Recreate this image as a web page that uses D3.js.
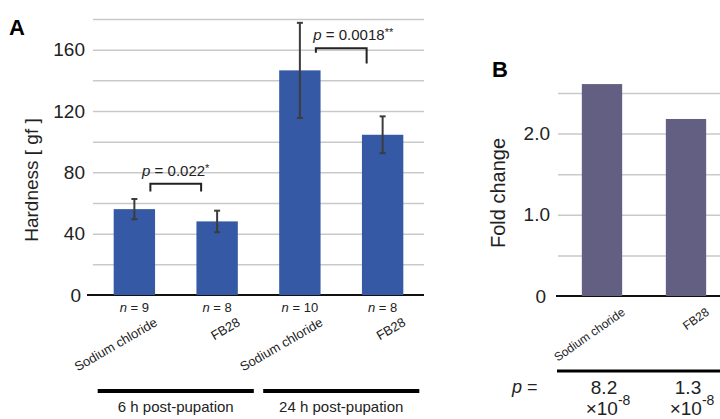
<!DOCTYPE html>
<html>
<head>
<meta charset="utf-8">
<script src="https://cdn.jsdelivr.net/npm/d3@7"></script>
<style>
  html, body { margin: 0; padding: 0; background: #fff; }
  svg { display: block; font-family: 'Liberation Sans', Arial, sans-serif; }
  .tick text { fill: #222; }
</style>
</head>
<body>
<svg id="fig" width="720" height="419"></svg>
<script>
'use strict'

// Panel A : hardness of the pupae
const hardnessIds = ['nacl6', 'fb6', 'nacl24', 'fb24']
const hardnessLabels = ['Sodium chloride', 'FB28', 'Sodium chloride', 'FB28']
const hardnessMeans = [56, 48, 146.5, 104.5]
const hardnessErrors = [6.6, 7, 31, 12]
const hardnessN = [9, 8, 10, 8]
const hardnessGroups = ['6 h post-pupation', '24 h post-pupation']
const hardnessTicks = [0, 40, 80, 120, 160]
const hardnessGrid = [20, 40, 60, 80, 100, 120, 140, 160, 180]

// comparisons : pairs of bars, p value, stars, bracket level and leg ends
const comparePairs = [[0, 1], [2, 3]]
const compareP = ['0.022', '0.0018']
const compareStars = ['*', '**']
const compareLevel = [72.5, 161]
const compareLeftEnd = [67.5, 158]
const compareRightEnd = [67.5, 151]

// Panel B : fold change
const foldCategories = ['Sodium choride', 'FB28']
const foldValues = [2.61, 2.18]
const foldTicks = [0, 1, 2]
const foldGrid = [0.5, 1, 1.5, 2, 2.5]
const foldPMantissa = ['8.2', '1.3']
const foldPExponent = '-8'

const FONT_COLOR = '#222'

/**
 * Draws the horizontal grid lines of a panel.
 */
function drawGrid (svg, y, values, x0, x1) {
  svg.append('g')
    .attr('transform', 'translate(' + x0 + ',0)')
    .call(d3.axisLeft(y).tickValues(values).tickSize(-(x1 - x0)).tickFormat(''))
    .call(g => g.select('.domain').remove())
    .call(g => g.selectAll('line').attr('stroke', '#c9c9c9').attr('stroke-width', 1.5))
}

/**
 * Draws the y tick labels (no tick marks).
 */
function drawYLabels (svg, y, values, x0, format) {
  svg.append('g')
    .attr('transform', 'translate(' + x0 + ',0)')
    .call(d3.axisLeft(y).tickValues(values).tickSize(0).tickPadding(8).tickFormat(format))
    .call(g => g.select('.domain').remove())
    .call(g => g.selectAll('text').attr('font-size', 19).attr('font-family', 'Liberation Sans, Arial, sans-serif'))
    .call(g => g.selectAll('.tick').filter(d => d === 0).select('text').attr('dx', -4))
}

function drawPanelA (svg) {
  const x = d3.scaleBand()
    .domain(hardnessIds)
    .range([93, 424])
    .paddingInner(0.5)
    .paddingOuter(0.25)
  const y = d3.scaleLinear().domain([0, 180]).range([295, 19])
  const bw = x.bandwidth()

  drawGrid(svg, y, hardnessGrid, 93, 424)

  // baseline
  svg.append('line')
    .attr('x1', 87).attr('x2', 424)
    .attr('y1', y(0)).attr('y2', y(0))
    .attr('stroke', '#111').attr('stroke-width', 2)

  drawYLabels(svg, y, hardnessTicks, 93, d3.format('d'))

  svg.selectAll('.bar-a')
    .data(hardnessMeans)
    .enter()
    .append('rect')
    .attr('class', 'bar-a')
    .attr('x', (d, i) => x(hardnessIds[i]))
    .attr('y', d => y(d))
    .attr('width', bw)
    .attr('height', d => y(0) - y(d))
    .attr('fill', '#3559a4')

  // error bars
  const err = svg.selectAll('.err')
    .data(hardnessMeans)
    .enter()
    .append('g')
    .attr('class', 'err')
    .attr('stroke', '#3c3c3c')
    .attr('stroke-width', 2)
  err.append('line')
    .attr('x1', (d, i) => x(hardnessIds[i]) + bw / 2)
    .attr('x2', (d, i) => x(hardnessIds[i]) + bw / 2)
    .attr('y1', (d, i) => y(d - hardnessErrors[i]))
    .attr('y2', (d, i) => y(d + hardnessErrors[i]))
  err.append('line')
    .attr('x1', (d, i) => x(hardnessIds[i]) + bw / 2 - 3)
    .attr('x2', (d, i) => x(hardnessIds[i]) + bw / 2 + 3)
    .attr('y1', (d, i) => y(d + hardnessErrors[i]))
    .attr('y2', (d, i) => y(d + hardnessErrors[i]))
  err.append('line')
    .attr('x1', (d, i) => x(hardnessIds[i]) + bw / 2 - 3)
    .attr('x2', (d, i) => x(hardnessIds[i]) + bw / 2 + 3)
    .attr('y1', (d, i) => y(d - hardnessErrors[i]))
    .attr('y2', (d, i) => y(d - hardnessErrors[i]))

  // significance brackets
  comparePairs.forEach((pair, k) => {
    const xa = x(hardnessIds[pair[0]]) + bw / 2 + 16
    const xb = x(hardnessIds[pair[1]]) + bw / 2 - 16
    const yl = y(compareLevel[k])
    svg.append('path')
      .attr('d', 'M' + xa + ',' + y(compareLeftEnd[k]) + 'V' + yl + 'H' + xb + 'V' + y(compareRightEnd[k]))
      .attr('fill', 'none')
      .attr('stroke', '#222')
      .attr('stroke-width', 2)
    const t = svg.append('text')
      .attr('x', (xa + xb) / 2 + (k === 1 ? 12 : 0))
      .attr('y', yl - 8)
      .attr('text-anchor', 'middle')
      .attr('font-size', 15)
      .attr('fill', FONT_COLOR)
    t.append('tspan').attr('font-style', 'italic').text('p')
    t.append('tspan').text(' = ' + compareP[k])
    t.append('tspan').attr('font-size', 11).attr('dy', -4).text(compareStars[k])
  })

  // n labels
  const nText = svg.selectAll('.n-label')
    .data(hardnessN)
    .enter()
    .append('text')
    .attr('class', 'n-label')
    .attr('x', (d, i) => x(hardnessIds[i]) + bw / 2)
    .attr('y', 312)
    .attr('text-anchor', 'middle')
    .attr('font-size', 13)
    .attr('fill', FONT_COLOR)
  nText.append('tspan').attr('font-style', 'italic').text('n')
  nText.append('tspan').text(d => ' = ' + d)

  // rotated category labels
  svg.selectAll('.cat-a')
    .data(hardnessLabels)
    .enter()
    .append('text')
    .attr('class', 'cat-a')
    .attr('transform', (d, i) => 'translate(' + (x(hardnessIds[i]) + bw / 2 + 24) + ',325) rotate(-30)')
    .attr('text-anchor', 'end')
    .attr('font-size', 13)
    .attr('fill', FONT_COLOR)
    .text(d => d)

  // time groups
  hardnessGroups.forEach((label, k) => {
    const xa = x(hardnessIds[k * 2]) - 16
    const xb = x(hardnessIds[k * 2 + 1]) + bw + 16
    svg.append('line')
      .attr('x1', xa).attr('x2', xb)
      .attr('y1', 391).attr('y2', 391)
      .attr('stroke', '#000').attr('stroke-width', 4)
    svg.append('text')
      .attr('x', (xa + xb) / 2)
      .attr('y', 412)
      .attr('text-anchor', 'middle')
      .attr('font-size', 15)
      .attr('fill', FONT_COLOR)
      .text(label)
  })

  svg.append('text')
    .attr('transform', 'translate(38,180) rotate(-90)')
    .attr('text-anchor', 'middle')
    .attr('font-size', 19)
    .attr('fill', FONT_COLOR)
    .text('Hardness [ gf ]')

  svg.append('text')
    .attr('x', 9).attr('y', 35)
    .attr('font-size', 22)
    .attr('font-weight', 'bold')
    .attr('fill', '#000')
    .text('A')
}

function drawPanelB (svg) {
  const x = d3.scaleBand()
    .domain(foldCategories)
    .range([560, 728])
    .paddingInner(0.52)
    .paddingOuter(0.26)
  const y = d3.scaleLinear().domain([0, 2.5]).range([296, 93])
  const bw = x.bandwidth()

  drawGrid(svg, y, foldGrid, 558, 720)

  svg.append('line')
    .attr('x1', 556).attr('x2', 720)
    .attr('y1', y(0)).attr('y2', y(0))
    .attr('stroke', '#111').attr('stroke-width', 2)

  drawYLabels(svg, y, foldTicks, 558, d => d === 0 ? '0' : d3.format('.1f')(d))

  svg.selectAll('.bar-b')
    .data(foldValues)
    .enter()
    .append('rect')
    .attr('class', 'bar-b')
    .attr('x', (d, i) => x(foldCategories[i]))
    .attr('y', d => y(d))
    .attr('width', bw)
    .attr('height', d => y(0) - y(d))
    .attr('fill', '#635f82')

  svg.selectAll('.cat-b')
    .data(foldCategories)
    .enter()
    .append('text')
    .attr('class', 'cat-b')
    .attr('transform', d => 'translate(' + (x(d) + bw / 2 + 24) + ',314) rotate(-35)')
    .attr('text-anchor', 'end')
    .attr('font-size', 12)
    .attr('fill', FONT_COLOR)
    .text(d => d)

  svg.append('line')
    .attr('x1', 557).attr('x2', 720)
    .attr('y1', 371).attr('y2', 371)
    .attr('stroke', '#000').attr('stroke-width', 3)

  const pText = svg.append('text')
    .attr('x', 512).attr('y', 393)
    .attr('font-size', 18)
    .attr('fill', FONT_COLOR)
  pText.append('tspan').attr('font-style', 'italic').text('p')
  pText.append('tspan').text(' =')

  svg.selectAll('.p-mant')
    .data(foldPMantissa)
    .enter()
    .append('text')
    .attr('class', 'p-mant')
    .attr('x', (d, i) => x(foldCategories[i]) + bw / 2 + 2)
    .attr('y', 394)
    .attr('text-anchor', 'middle')
    .attr('font-size', 19)
    .attr('fill', FONT_COLOR)
    .text(d => d)

  const pExp = svg.selectAll('.p-exp')
    .data(foldPMantissa)
    .enter()
    .append('text')
    .attr('class', 'p-exp')
    .attr('x', (d, i) => x(foldCategories[i]) + bw / 2 + 6)
    .attr('y', 415)
    .attr('text-anchor', 'middle')
    .attr('font-size', 19)
    .attr('fill', FONT_COLOR)
  pExp.append('tspan').text('×10')
  pExp.append('tspan').attr('font-size', 14).attr('dy', -10).text(foldPExponent)

  svg.append('text')
    .attr('transform', 'translate(505,193) rotate(-90)')
    .attr('text-anchor', 'middle')
    .attr('font-size', 20)
    .attr('fill', FONT_COLOR)
    .text('Fold change')

  svg.append('text')
    .attr('x', 492).attr('y', 77)
    .attr('font-size', 22)
    .attr('font-weight', 'bold')
    .attr('fill', '#000')
    .text('B')
}

(function (d3) {
  const svg = d3.select('#fig')
  svg.append('rect').attr('width', 720).attr('height', 419).attr('fill', '#fff')
  drawPanelA(svg)
  drawPanelB(svg)
})(d3)
</script>
</body>
</html>
